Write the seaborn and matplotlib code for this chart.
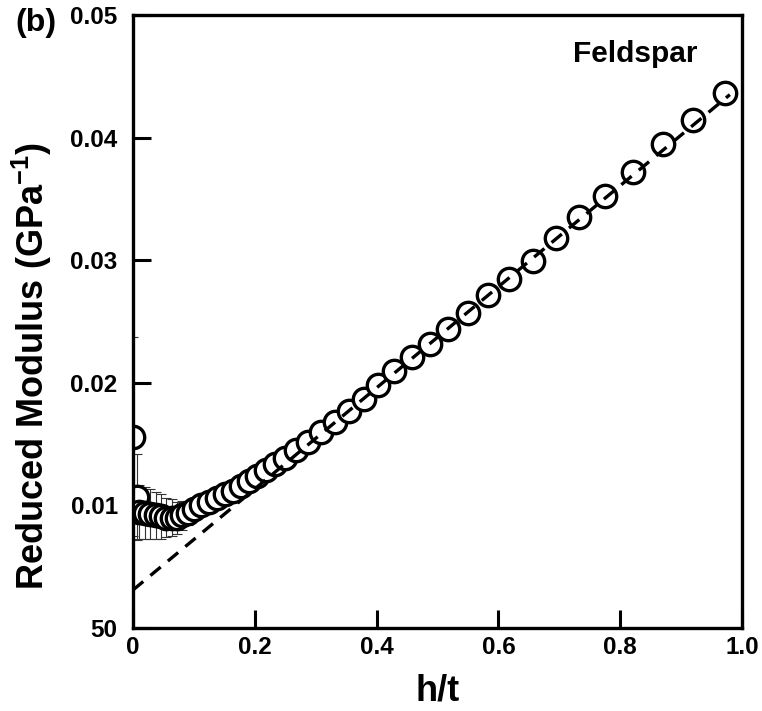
import matplotlib
matplotlib.use("Agg")
import matplotlib.pyplot as plt
import pandas as pd
import seaborn as sns

# h/t position, reduced modulus (GPa^-1) and error bar half-height
HT = [0.000, 0.007, 0.010, 0.019, 0.028, 0.037, 0.046, 0.055, 0.064, 0.073,
      0.081, 0.090, 0.100, 0.112, 0.125, 0.138, 0.151, 0.164, 0.177, 0.190,
      0.204, 0.219, 0.234, 0.250, 0.268, 0.288, 0.309, 0.331, 0.354, 0.379,
      0.403, 0.428, 0.458, 0.488, 0.518, 0.550, 0.583, 0.618, 0.656, 0.694,
      0.732, 0.775, 0.821, 0.871, 0.920, 0.972]
MODULUS = [0.0156, 0.0107, 0.0095, 0.0094, 0.0093, 0.0092, 0.0091, 0.0090, 0.0090, 0.0090,
           0.0092, 0.0094, 0.0097, 0.0100, 0.0103, 0.0106, 0.0109, 0.0112, 0.0116, 0.0120,
           0.0124, 0.0129, 0.0134, 0.0139, 0.0145, 0.0152, 0.0160, 0.0168, 0.0177, 0.0187,
           0.0198, 0.0210, 0.0221, 0.0232, 0.0244, 0.0257, 0.0272, 0.0285, 0.0299, 0.0318,
           0.0335, 0.0352, 0.0372, 0.0395, 0.0414, 0.0436]
ERROR = [0.0081, 0.0035, 0.0022, 0.0021, 0.0020, 0.0019, 0.0018, 0.0016, 0.0015, 0.0013,
         0.0012, 0.0010, 0.0009, 0.0008, 0.0007, 0.0006, 0.0005, 0.0005, 0.0004, 0.0004,
         0.0004, 0.0003, 0.0003, 0.0003, 0.0003, 0.0003, 0.0003, 0.0003, 0.0003, 0.0003,
         0.0003, 0.0003, 0.0003, 0.0003, 0.0003, 0.0003, 0.0003, 0.0003, 0.0003, 0.0004,
         0.0004, 0.0004, 0.0004, 0.0004, 0.0007, 0.0009]

# linear extrapolation (dashed)
FIT_X = [0.0, 0.98]
FIT_Y = [0.0031, 0.0435]

X_TICKS = [0, 0.2, 0.4, 0.6, 0.8, 1.0]
X_LABELS = ["0", "0.2", "0.4", "0.6", "0.8", "1.0"]
Y_TICKS = [0, 0.01, 0.02, 0.03, 0.04, 0.05]
Y_LABELS = ["50", "0.01", "0.02", "0.03", "0.04", "0.05"]

sns.set_theme(style="white")
plt.rcParams["font.family"] = ["Liberation Sans", "DejaVu Sans"]
plt.rcParams["font.weight"] = "bold"
plt.rcParams["text.color"] = "black"
plt.rcParams["axes.labelcolor"] = "black"
plt.rcParams["mathtext.fontset"] = "custom"
plt.rcParams["mathtext.rm"] = "Liberation Sans:bold"
plt.rcParams["mathtext.default"] = "regular"

df = pd.DataFrame({"ht": HT, "modulus": MODULUS, "err": ERROR})

fig = plt.figure(figsize=(7.62, 7.11), dpi=100)
ax = fig.add_axes([0.1745, 0.1167, 0.7993, 0.8623])

ax.errorbar(df["ht"], df["modulus"], yerr=df["err"], fmt="none",
            ecolor="#333333", elinewidth=0.8, capsize=3.5, capthick=0.8, zorder=1)
sns.scatterplot(data=df, x="ht", y="modulus", ax=ax, marker="o", s=260,
                facecolor="white", edgecolor="black", linewidth=2.4, zorder=2,
                legend=False)
sns.lineplot(x=FIT_X, y=FIT_Y, ax=ax, color="black", linewidth=2.4, zorder=3)
ax.lines[-1].set_linestyle((0, (4, 2.8)))

ax.set_xlim(0, 1.0)
ax.set_ylim(0, 0.05)
ax.set_xticks(X_TICKS)
ax.set_xticklabels(X_LABELS)
ax.set_yticks(Y_TICKS)
ax.set_yticklabels(Y_LABELS)
ax.tick_params(axis="both", direction="in", length=13, width=2.2,
               labelsize=17.5, color="black", labelcolor="black")
ax.tick_params(axis="x", pad=6)
ax.tick_params(axis="y", pad=11)
ax.tick_params(top=False, right=False, bottom=True, left=True)
for sp in ax.spines.values():
    sp.set_linewidth(2.4)
    sp.set_color("black")

ax.set_xlabel("h/t", fontsize=26, fontweight="bold", labelpad=10)
ax.set_ylabel("")
fig.text(0.042, 0.485, "Reduced Modulus (GPa$^{-1}$)", rotation=90,
         fontsize=26, fontweight="bold", ha="center", va="center")
fig.text(0.02, 0.968, "(b)", fontsize=23, fontweight="bold", ha="left", va="center")
ax.text(0.927, 0.937, "Feldspar", transform=ax.transAxes, fontsize=21.5,
        fontweight="bold", ha="right", va="center")

fig.savefig("out.png", dpi=100)
